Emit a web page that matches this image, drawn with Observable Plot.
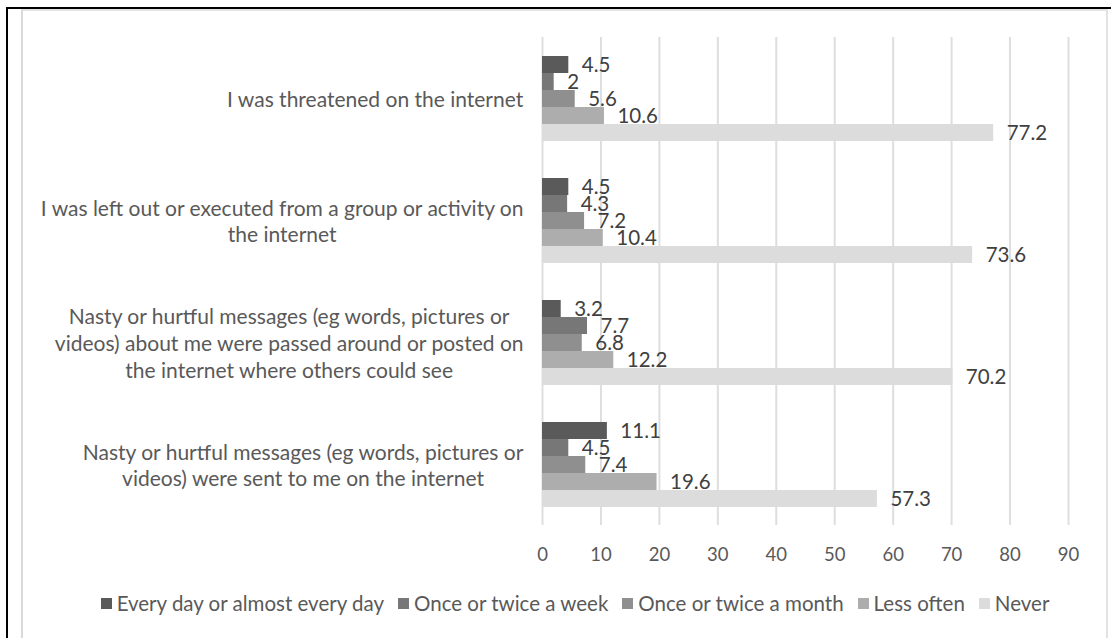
<!DOCTYPE html>
<html>
<head>
<meta charset="utf-8">
<script src="https://cdn.jsdelivr.net/npm/d3@7"></script>
<script src="https://cdn.jsdelivr.net/npm/@observablehq/plot@0.6"></script>
<style>
  html, body { margin: 0; padding: 0; background: #fff; }
  body { width: 1111px; height: 638px; position: relative; overflow: hidden; font-family: Lato, "Open Sans", sans-serif; }
  #outer { position: absolute; left: 6px; top: 7px; width: 1110px; height: 700px; border-left: 2px solid #000; border-top: 2px solid #000; }
  #inner { position: absolute; left: 21px; top: 9px; width: 1083px; height: 700px; border-left: 2px solid #d9d9d9; border-top: 2px solid #e3e3e3; border-right: 2px solid #e3e3e3; }
  #chart { position: absolute; left: 0; top: 0; }
  #legend { position: absolute; left: 40px; width: 1070px; top: 591px; display: flex; justify-content: center; gap: 14px; font-size: 20.5px; color: #595959; }
  #legend .item { display: flex; align-items: center; white-space: nowrap; }
  #legend .sw { width: 11px; height: 11px; margin-right: 5px; display: inline-block; }
</style>
</head>
<body>
<div id="outer"></div>
<div id="inner"></div>
<div id="chart"></div>
<div id="legend"></div>
<script>
// ---- data ----
const categories = [
  "I was threatened on the internet",
  "I was left out or executed from a group or activity on the internet",
  "Nasty or hurtful messages (eg words, pictures or videos) about me were passed around or posted on the internet where others could see",
  "Nasty or hurtful messages (eg words, pictures or videos) were sent to me on the internet"
];
const categoryLabels = [
  "I was threatened on the internet",
  "I was left out or executed from a group or activity on\nthe internet",
  "Nasty or hurtful messages (eg words, pictures or\nvideos) about me were passed around or posted on\nthe internet where others could see",
  "Nasty or hurtful messages (eg words, pictures or\nvideos) were sent to me on the internet"
];
const series = ["Every day or almost every day", "Once or twice a week", "Once or twice a month", "Less often", "Never"];
const everyDay   = [4.5, 4.5, 3.2, 11.1];
const weekly     = [2, 4.3, 7.7, 4.5];
const monthly    = [5.6, 7.2, 6.8, 7.4];
const lessOften  = [10.6, 10.4, 12.2, 19.6];
const never      = [77.2, 73.6, 70.2, 57.3];
const xTicks = [0, 10, 20, 30, 40, 50, 60, 70, 80, 90];
const colors = ["#5a5a5a", "#777777", "#8f8f8f", "#adadad", "#dcdcdc"];

const seriesValues = [everyDay, weekly, monthly, lessOften, never];
const rows = [];
categories.forEach((c, i) => {
  series.forEach((s, j) => rows.push({category: c, series: s, value: seriesValues[j][i]}));
});
const labelRows = categories.map((c, i) => ({category: c, label: categoryLabels[i]}));

const chart = Plot.plot({
  width: 1111,
  height: 580,
  marginLeft: 542,
  marginRight: 43,
  marginTop: 37,
  marginBottom: 55,
  style: {fontFamily: "Lato, 'Open Sans', sans-serif", background: "transparent", overflow: "visible"},
  x: {domain: [0, 90], label: null},
  fy: {domain: categories, padding: 0, axis: null, label: null},
  y: {domain: series, paddingInner: 0, paddingOuter: 0.93, axis: null, label: null},
  color: {domain: series, range: colors},
  marks: [
    Plot.gridX(xTicks, {stroke: "#dedede", strokeOpacity: 1, strokeWidth: 2}),
    Plot.barX(rows, {x: "value", y: "series", fy: "category", fill: "series"}),
    Plot.text(rows, {x: "value", y: "series", fy: "category", text: d => String(d.value), textAnchor: "start", dx: 13, fill: "#404040", fontSize: 20.5}),
    Plot.text(labelRows, {fy: "category", text: "label", frameAnchor: "left", textAnchor: "middle", fill: "#595959", fontSize: 21, lineHeight: 1.27}),
    Plot.axisX(xTicks, {tickSize: 0, tickPadding: 22, fontSize: 18.5, fill: "#595959", tickFormat: d => String(d)})
  ]
});
document.getElementById("chart").appendChild(chart);

// right-align the centered multi-line category labels next to the plot's left edge
const rightEdge = 523;
const labelTexts = new Set(categoryLabels.map(l => l.replace(/\n/g, "")));
chart.querySelectorAll("text").forEach(el => {
  if (!labelTexts.has(el.textContent)) return;
  const b = el.getBBox();
  const shift = 542 - (rightEdge - b.width / 2);
  el.setAttribute("transform", `translate(${-shift},0) ` + (el.getAttribute("transform") || ""));
});

// legend
const legend = document.getElementById("legend");
series.forEach((s, i) => {
  const item = document.createElement("span");
  item.className = "item";
  const sw = document.createElement("span");
  sw.className = "sw";
  sw.style.background = colors[i];
  item.appendChild(sw);
  item.appendChild(document.createTextNode(s));
  legend.appendChild(item);
});
</script>
</body>
</html>
